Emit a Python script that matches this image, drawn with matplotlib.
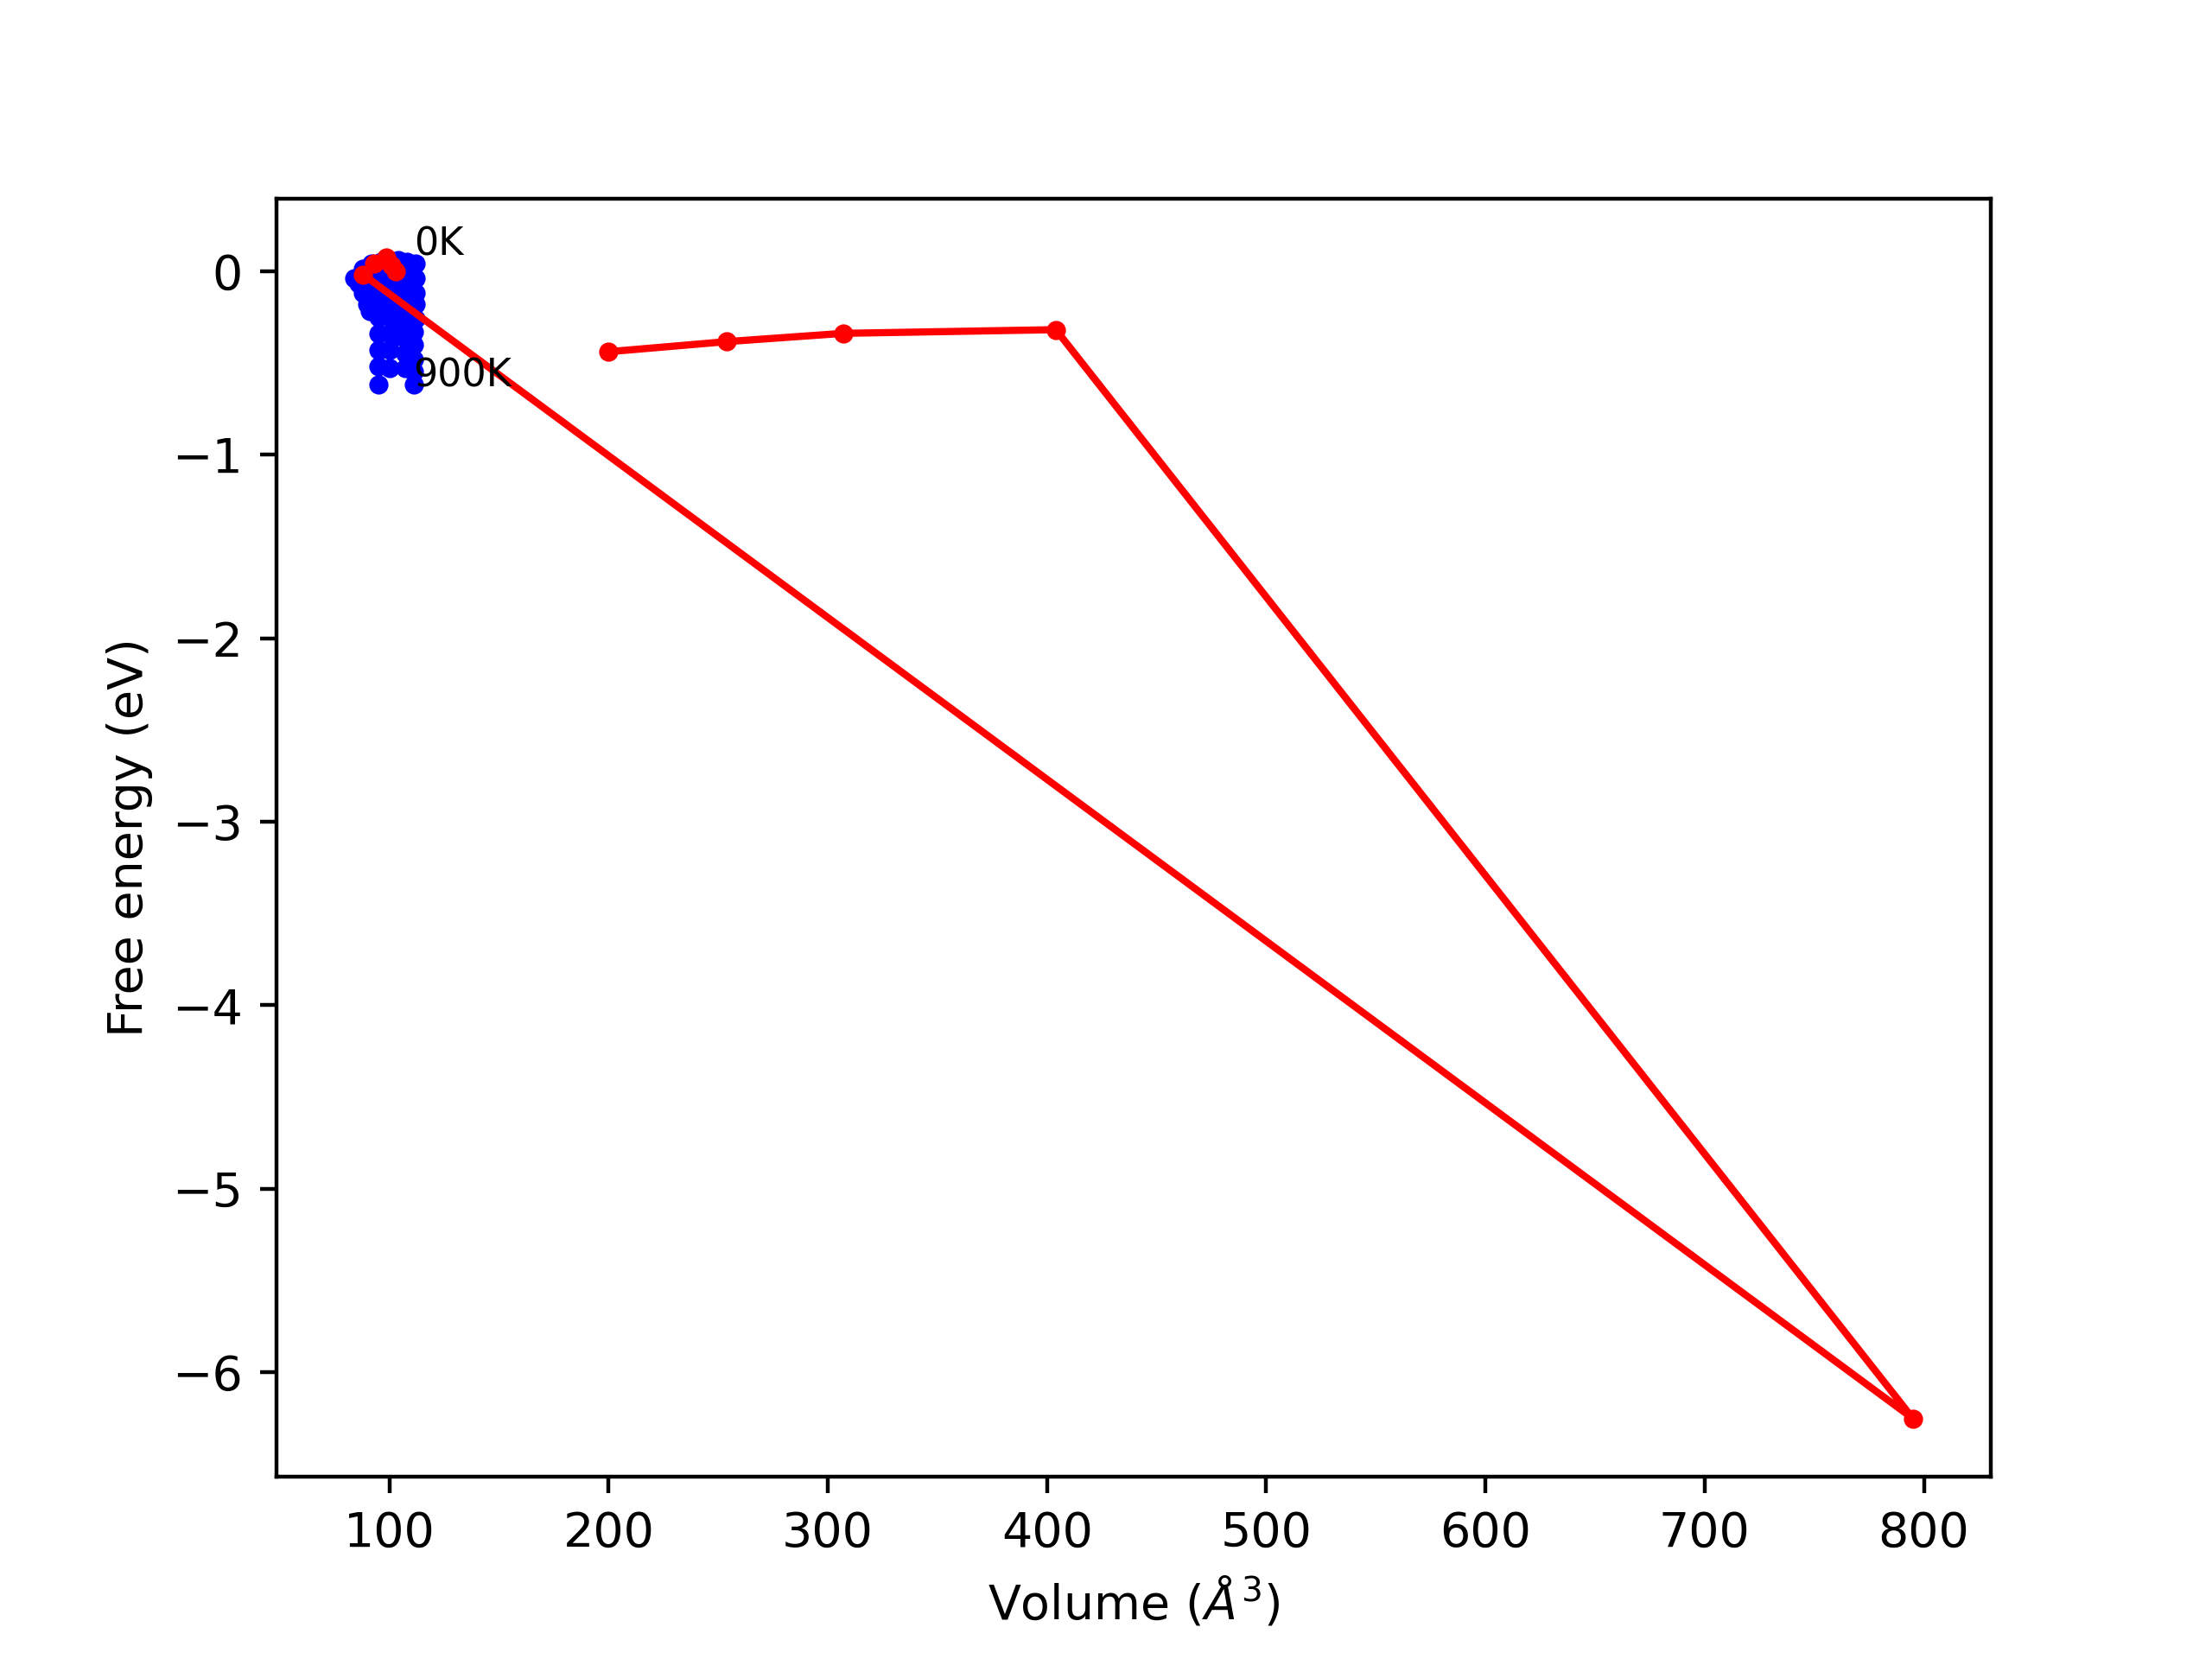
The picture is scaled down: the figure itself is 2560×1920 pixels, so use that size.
import matplotlib
matplotlib.use('Agg')
import matplotlib.pyplot as plt

# blue points: free energy vs volume, one row per temperature (0K ... 900K)
temps = [0, 100, 200, 300, 400, 500, 600, 700, 800, 900]
vols = [
    [84, 88, 92, 96, 100, 104, 108, 112],
    [86, 90, 94, 98, 102, 106, 112],
    [88, 92, 96, 100, 104, 108, 112],
    [90, 94, 98, 102, 107, 112],
    [91, 95, 99, 103, 107, 112],
    [95, 100, 106, 111],
    [95, 100, 106, 111],
    [95, 100, 107, 111],
    [95, 100, 107, 111],
    [95, 111],
]
energies = [
    [-0.04, 0.01, 0.04, 0.05, 0.06, 0.06, 0.05, 0.04],
    [-0.07, -0.03, 0.00, 0.02, 0.02, 0.01, -0.04],
    [-0.12, -0.09, -0.07, -0.06, -0.07, -0.09, -0.12],
    [-0.18, -0.15, -0.13, -0.13, -0.14, -0.18],
    [-0.22, -0.20, -0.19, -0.19, -0.21, -0.26],
    [-0.25, -0.25, -0.28, -0.33],
    [-0.34, -0.34, -0.36, -0.40],
    [-0.43, -0.43, -0.45, -0.48],
    [-0.52, -0.53, -0.53, -0.55],
    [-0.62, -0.62],
]

# red: fitted minimum for each temperature
vmin = [103, 101, 98.5, 93, 88, 795, 404, 307, 254, 200]
fmin = [0.0, 0.03, 0.075, 0.04, -0.02, -6.25, -0.32, -0.34, -0.385, -0.44]

fig = plt.figure(figsize=(6.4, 4.8), dpi=400)
ax = fig.add_subplot(111)

for v, e in zip(vols, energies):
    ax.plot(v, e, 'b.')

ax.plot(vmin, fmin, 'r.-')

ax.text(111, 0.085, '%dK' % temps[0], fontsize=8)
ax.text(111, -0.63, '%dK' % temps[-1], fontsize=8)

ax.set_xlabel(r'Volume ($\AA^3$)')
ax.set_ylabel('Free energy (eV)')

fig.savefig('out.png', dpi=400)
